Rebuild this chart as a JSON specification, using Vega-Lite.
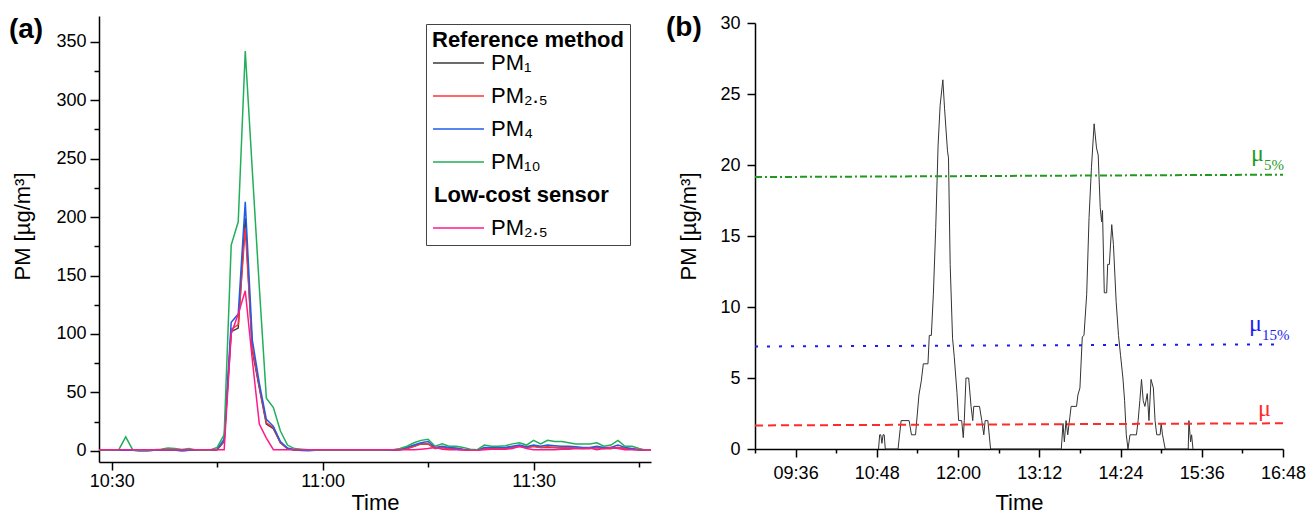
{
  "$schema": "https://vega.github.io/schema/vega-lite/v6.json",
  "background": "white",
  "padding": {"left": 8, "top": 14, "right": 0, "bottom": 0},
  "spacing": 14,
  "resolve": {"scale": {"color": "independent", "strokeDash": "independent"}, "legend": {"color": "independent"}},
  "config": {
    "view": {"stroke": null},
    "font": "Liberation Sans",
    "axis": {
      "grid": false, "domainColor": "black", "domainWidth": 1.5, "tickColor": "black", "tickWidth": 1.5,
      "labelFont": "Liberation Sans", "labelFontSize": 18, "labelColor": "black",
      "titleFont": "Liberation Sans", "titleFontSize": 22, "titleFontWeight": "normal", "titleColor": "black",
      "labelOverlap": false, "labelFlush": false
    },
    "axisX": {"labelPadding": 2, "titlePadding": 2},
    "axisY": {"labelPadding": 4, "titlePadding": 21}
  },
  "datasets": {
    "pma": [
      {"t": "2020-01-01T10:28:00", "PM1": 0.5, "PM2_5": 0.5, "PM4": 0.6, "PM10": 0.8, "LC_PM2_5": 1},
      {"t": "2020-01-01T10:29:00", "PM1": 0.5, "PM2_5": 0.5, "PM4": 0.6, "PM10": 0.8, "LC_PM2_5": 1},
      {"t": "2020-01-01T10:30:00", "PM1": 0.5, "PM2_5": 0.5, "PM4": 0.6, "PM10": 0.8, "LC_PM2_5": 1},
      {"t": "2020-01-01T10:31:00", "PM1": 0.5, "PM2_5": 0.5, "PM4": 0.6, "PM10": 0.8, "LC_PM2_5": 1},
      {"t": "2020-01-01T10:32:00", "PM1": 0.5, "PM2_5": 0.6, "PM4": 0.8, "PM10": 12, "LC_PM2_5": 1},
      {"t": "2020-01-01T10:33:00", "PM1": 0.5, "PM2_5": 0.5, "PM4": 0.6, "PM10": 0.8, "LC_PM2_5": 1},
      {"t": "2020-01-01T10:34:00", "PM1": 0.3, "PM2_5": 0.3, "PM4": 0.2, "PM10": 0.5, "LC_PM2_5": 1},
      {"t": "2020-01-01T10:35:00", "PM1": 0.3, "PM2_5": 0.3, "PM4": 0.1, "PM10": 0.6, "LC_PM2_5": 1},
      {"t": "2020-01-01T10:36:00", "PM1": 0.5, "PM2_5": 0.5, "PM4": 0.6, "PM10": 1, "LC_PM2_5": 1},
      {"t": "2020-01-01T10:37:00", "PM1": 0.5, "PM2_5": 0.6, "PM4": 0.8, "PM10": 1.5, "LC_PM2_5": 1},
      {"t": "2020-01-01T10:38:00", "PM1": 0.5, "PM2_5": 0.6, "PM4": 0.8, "PM10": 2.5, "LC_PM2_5": 1},
      {"t": "2020-01-01T10:39:00", "PM1": 0.5, "PM2_5": 0.6, "PM4": 0.8, "PM10": 2, "LC_PM2_5": 1},
      {"t": "2020-01-01T10:40:00", "PM1": 0.3, "PM2_5": 0.3, "PM4": 0.1, "PM10": 1.2, "LC_PM2_5": 1},
      {"t": "2020-01-01T10:41:00", "PM1": 0.5, "PM2_5": 0.5, "PM4": 0.6, "PM10": 2, "LC_PM2_5": 1},
      {"t": "2020-01-01T10:42:00", "PM1": 0.5, "PM2_5": 0.5, "PM4": 0.6, "PM10": 0.8, "LC_PM2_5": 1},
      {"t": "2020-01-01T10:43:00", "PM1": 0.5, "PM2_5": 0.5, "PM4": 0.6, "PM10": 0.8, "LC_PM2_5": 1},
      {"t": "2020-01-01T10:44:00", "PM1": 0.5, "PM2_5": 0.5, "PM4": 0.6, "PM10": 0.8, "LC_PM2_5": 1},
      {"t": "2020-01-01T10:45:00", "PM1": 1, "PM2_5": 1, "PM4": 1.5, "PM10": 3, "LC_PM2_5": 1},
      {"t": "2020-01-01T10:46:00", "PM1": 8, "PM2_5": 9, "PM4": 10, "PM10": 14, "LC_PM2_5": 1},
      {"t": "2020-01-01T10:47:00", "PM1": 102, "PM2_5": 104, "PM4": 110, "PM10": 176, "LC_PM2_5": 100},
      {"t": "2020-01-01T10:48:00", "PM1": 105, "PM2_5": 108, "PM4": 117, "PM10": 196, "LC_PM2_5": 117},
      {"t": "2020-01-01T10:49:00", "PM1": 199, "PM2_5": 191, "PM4": 213, "PM10": 342, "LC_PM2_5": 137},
      {"t": "2020-01-01T10:50:00", "PM1": 86, "PM2_5": 88, "PM4": 95, "PM10": 240, "LC_PM2_5": 78},
      {"t": "2020-01-01T10:51:00", "PM1": 54, "PM2_5": 55, "PM4": 58, "PM10": 140, "LC_PM2_5": 23},
      {"t": "2020-01-01T10:52:00", "PM1": 23, "PM2_5": 24, "PM4": 27, "PM10": 45, "LC_PM2_5": 11},
      {"t": "2020-01-01T10:53:00", "PM1": 19, "PM2_5": 20, "PM4": 21, "PM10": 37, "LC_PM2_5": 1},
      {"t": "2020-01-01T10:54:00", "PM1": 7, "PM2_5": 7, "PM4": 8, "PM10": 17, "LC_PM2_5": 1},
      {"t": "2020-01-01T10:55:00", "PM1": 2, "PM2_5": 2, "PM4": 2.5, "PM10": 5, "LC_PM2_5": 1},
      {"t": "2020-01-01T10:56:00", "PM1": 0.8, "PM2_5": 0.8, "PM4": 1, "PM10": 2, "LC_PM2_5": 1},
      {"t": "2020-01-01T10:57:00", "PM1": 0.5, "PM2_5": 0.5, "PM4": 0.3, "PM10": 1.5, "LC_PM2_5": 1},
      {"t": "2020-01-01T10:58:00", "PM1": 0.5, "PM2_5": 0.5, "PM4": 0.2, "PM10": 1, "LC_PM2_5": 1},
      {"t": "2020-01-01T10:59:00", "PM1": 0.5, "PM2_5": 0.5, "PM4": 0.6, "PM10": 0.8, "LC_PM2_5": 1},
      {"t": "2020-01-01T11:00:00", "PM1": 0.5, "PM2_5": 0.5, "PM4": 0.6, "PM10": 0.8, "LC_PM2_5": 1},
      {"t": "2020-01-01T11:01:00", "PM1": 0.5, "PM2_5": 0.5, "PM4": 0.6, "PM10": 0.8, "LC_PM2_5": 1},
      {"t": "2020-01-01T11:02:00", "PM1": 0.5, "PM2_5": 0.5, "PM4": 0.6, "PM10": 0.8, "LC_PM2_5": 1},
      {"t": "2020-01-01T11:03:00", "PM1": 0.5, "PM2_5": 0.5, "PM4": 0.6, "PM10": 0.8, "LC_PM2_5": 1},
      {"t": "2020-01-01T11:04:00", "PM1": 0.5, "PM2_5": 0.5, "PM4": 0.6, "PM10": 0.8, "LC_PM2_5": 1},
      {"t": "2020-01-01T11:05:00", "PM1": 0.5, "PM2_5": 0.5, "PM4": 0.6, "PM10": 0.8, "LC_PM2_5": 1},
      {"t": "2020-01-01T11:06:00", "PM1": 0.5, "PM2_5": 0.5, "PM4": 0.6, "PM10": 0.8, "LC_PM2_5": 1},
      {"t": "2020-01-01T11:07:00", "PM1": 0.5, "PM2_5": 0.5, "PM4": 0.6, "PM10": 0.8, "LC_PM2_5": 1},
      {"t": "2020-01-01T11:08:00", "PM1": 0.5, "PM2_5": 0.5, "PM4": 0.6, "PM10": 0.8, "LC_PM2_5": 1},
      {"t": "2020-01-01T11:09:00", "PM1": 0.5, "PM2_5": 0.5, "PM4": 0.6, "PM10": 0.8, "LC_PM2_5": 1},
      {"t": "2020-01-01T11:10:00", "PM1": 0.5, "PM2_5": 0.5, "PM4": 0.6, "PM10": 1, "LC_PM2_5": 1},
      {"t": "2020-01-01T11:11:00", "PM1": 1, "PM2_5": 1, "PM4": 1.5, "PM10": 2, "LC_PM2_5": 1},
      {"t": "2020-01-01T11:12:00", "PM1": 2, "PM2_5": 2, "PM4": 3, "PM10": 4, "LC_PM2_5": 1},
      {"t": "2020-01-01T11:13:00", "PM1": 4, "PM2_5": 4, "PM4": 5, "PM10": 7, "LC_PM2_5": 1},
      {"t": "2020-01-01T11:14:00", "PM1": 6, "PM2_5": 6, "PM4": 7, "PM10": 9, "LC_PM2_5": 1.5},
      {"t": "2020-01-01T11:15:00", "PM1": 6, "PM2_5": 6, "PM4": 8, "PM10": 10, "LC_PM2_5": 2},
      {"t": "2020-01-01T11:16:00", "PM1": 2, "PM2_5": 2, "PM4": 3, "PM10": 4, "LC_PM2_5": 3},
      {"t": "2020-01-01T11:17:00", "PM1": 3, "PM2_5": 3, "PM4": 4, "PM10": 6, "LC_PM2_5": 1.5},
      {"t": "2020-01-01T11:18:00", "PM1": 2, "PM2_5": 2, "PM4": 3, "PM10": 4, "LC_PM2_5": 1},
      {"t": "2020-01-01T11:19:00", "PM1": 1.5, "PM2_5": 1.5, "PM4": 2.5, "PM10": 4, "LC_PM2_5": 1},
      {"t": "2020-01-01T11:20:00", "PM1": 1, "PM2_5": 1, "PM4": 1.5, "PM10": 3, "LC_PM2_5": 1},
      {"t": "2020-01-01T11:21:00", "PM1": 0.5, "PM2_5": 0.5, "PM4": 1, "PM10": 1.5, "LC_PM2_5": 0.5},
      {"t": "2020-01-01T11:22:00", "PM1": 0.5, "PM2_5": 0.5, "PM4": 0.5, "PM10": 1, "LC_PM2_5": 0.5},
      {"t": "2020-01-01T11:23:00", "PM1": 2, "PM2_5": 2, "PM4": 3, "PM10": 5, "LC_PM2_5": 1},
      {"t": "2020-01-01T11:24:00", "PM1": 2, "PM2_5": 2, "PM4": 3, "PM10": 4, "LC_PM2_5": 1.5},
      {"t": "2020-01-01T11:25:00", "PM1": 2, "PM2_5": 2, "PM4": 3, "PM10": 4, "LC_PM2_5": 1.5},
      {"t": "2020-01-01T11:26:00", "PM1": 2, "PM2_5": 2, "PM4": 3, "PM10": 4.5, "LC_PM2_5": 1.5},
      {"t": "2020-01-01T11:27:00", "PM1": 3, "PM2_5": 3, "PM4": 4, "PM10": 6, "LC_PM2_5": 2},
      {"t": "2020-01-01T11:28:00", "PM1": 4, "PM2_5": 4, "PM4": 5, "PM10": 7, "LC_PM2_5": 4},
      {"t": "2020-01-01T11:29:00", "PM1": 3, "PM2_5": 3, "PM4": 3.5, "PM10": 5, "LC_PM2_5": 2},
      {"t": "2020-01-01T11:30:00", "PM1": 4, "PM2_5": 4, "PM4": 5, "PM10": 9, "LC_PM2_5": 1},
      {"t": "2020-01-01T11:31:00", "PM1": 3, "PM2_5": 3, "PM4": 4, "PM10": 6, "LC_PM2_5": 1},
      {"t": "2020-01-01T11:32:00", "PM1": 3, "PM2_5": 3.5, "PM4": 5, "PM10": 9, "LC_PM2_5": 1},
      {"t": "2020-01-01T11:33:00", "PM1": 3, "PM2_5": 3, "PM4": 4.5, "PM10": 8, "LC_PM2_5": 1},
      {"t": "2020-01-01T11:34:00", "PM1": 2.5, "PM2_5": 3, "PM4": 4, "PM10": 8, "LC_PM2_5": 1.5},
      {"t": "2020-01-01T11:35:00", "PM1": 2.5, "PM2_5": 3, "PM4": 4, "PM10": 7, "LC_PM2_5": 1.5},
      {"t": "2020-01-01T11:36:00", "PM1": 2, "PM2_5": 2.5, "PM4": 3.5, "PM10": 6, "LC_PM2_5": 2},
      {"t": "2020-01-01T11:37:00", "PM1": 2, "PM2_5": 2, "PM4": 3, "PM10": 6, "LC_PM2_5": 2},
      {"t": "2020-01-01T11:38:00", "PM1": 2, "PM2_5": 2, "PM4": 3, "PM10": 6, "LC_PM2_5": 2.5},
      {"t": "2020-01-01T11:39:00", "PM1": 3, "PM2_5": 3, "PM4": 4, "PM10": 7, "LC_PM2_5": 1},
      {"t": "2020-01-01T11:40:00", "PM1": 2, "PM2_5": 2, "PM4": 3, "PM10": 4, "LC_PM2_5": 2},
      {"t": "2020-01-01T11:41:00", "PM1": 2, "PM2_5": 2, "PM4": 3, "PM10": 5, "LC_PM2_5": 3},
      {"t": "2020-01-01T11:42:00", "PM1": 3, "PM2_5": 3, "PM4": 5, "PM10": 9, "LC_PM2_5": 2},
      {"t": "2020-01-01T11:43:00", "PM1": 2, "PM2_5": 2, "PM4": 3, "PM10": 4, "LC_PM2_5": 1},
      {"t": "2020-01-01T11:44:00", "PM1": 1.5, "PM2_5": 1.5, "PM4": 2, "PM10": 4, "LC_PM2_5": 1},
      {"t": "2020-01-01T11:45:00", "PM1": 1, "PM2_5": 1, "PM4": 1, "PM10": 2, "LC_PM2_5": 1},
      {"t": "2020-01-01T11:46:00", "PM1": 0.5, "PM2_5": 0.5, "PM4": 0.5, "PM10": 0.5, "LC_PM2_5": 0.8},
      {"t": "2020-01-01T11:47:00", "PM1": 0.5, "PM2_5": 0.5, "PM4": 0.5, "PM10": 0.5, "LC_PM2_5": 0.8}
    ],
    "pmb": [
      {"t": "2020-01-01T10:49:30", "v": 0}, {"t": "2020-01-01T10:50:30", "v": 1}, {"t": "2020-01-01T10:51:30", "v": 1},
      {"t": "2020-01-01T10:52:30", "v": 0.4}, {"t": "2020-01-01T10:53:30", "v": 1}, {"t": "2020-01-01T10:54:30", "v": 1},
      {"t": "2020-01-01T10:55:30", "v": 0}, {"t": "2020-01-01T11:06:48", "v": 0}, {"t": "2020-01-01T11:09:30", "v": 2},
      {"t": "2020-01-01T11:16:36", "v": 2}, {"t": "2020-01-01T11:18:42", "v": 1}, {"t": "2020-01-01T11:22:18", "v": 1},
      {"t": "2020-01-01T11:25:18", "v": 3.8}, {"t": "2020-01-01T11:27:24", "v": 4.8}, {"t": "2020-01-01T11:29:12", "v": 6},
      {"t": "2020-01-01T11:33:18", "v": 6}, {"t": "2020-01-01T11:34:30", "v": 8}, {"t": "2020-01-01T11:36:18", "v": 8},
      {"t": "2020-01-01T11:38:06", "v": 10.9}, {"t": "2020-01-01T11:40:12", "v": 15.6}, {"t": "2020-01-01T11:42:18", "v": 21.4},
      {"t": "2020-01-01T11:44:06", "v": 24.2}, {"t": "2020-01-01T11:46:30", "v": 26}, {"t": "2020-01-01T11:48:00", "v": 24},
      {"t": "2020-01-01T11:50:36", "v": 21}, {"t": "2020-01-01T11:51:30", "v": 20.5}, {"t": "2020-01-01T11:53:00", "v": 13},
      {"t": "2020-01-01T11:55:06", "v": 7.8}, {"t": "2020-01-01T11:56:36", "v": 6.5}, {"t": "2020-01-01T11:59:00", "v": 4},
      {"t": "2020-01-01T12:00:30", "v": 2}, {"t": "2020-01-01T12:03:12", "v": 2}, {"t": "2020-01-01T12:04:36", "v": 0.8},
      {"t": "2020-01-01T12:05:30", "v": 2}, {"t": "2020-01-01T12:07:00", "v": 5}, {"t": "2020-01-01T12:09:24", "v": 5},
      {"t": "2020-01-01T12:11:30", "v": 3}, {"t": "2020-01-01T12:13:00", "v": 2}, {"t": "2020-01-01T12:13:54", "v": 3},
      {"t": "2020-01-01T12:19:00", "v": 3}, {"t": "2020-01-01T12:21:00", "v": 2}, {"t": "2020-01-01T12:22:48", "v": 1},
      {"t": "2020-01-01T12:24:00", "v": 2}, {"t": "2020-01-01T12:26:24", "v": 2}, {"t": "2020-01-01T12:28:48", "v": 0},
      {"t": "2020-01-01T13:31:30", "v": 0}, {"t": "2020-01-01T13:33:00", "v": 1.8}, {"t": "2020-01-01T13:34:12", "v": 0.5},
      {"t": "2020-01-01T13:35:42", "v": 2}, {"t": "2020-01-01T13:37:12", "v": 1}, {"t": "2020-01-01T13:39:00", "v": 2.2},
      {"t": "2020-01-01T13:40:12", "v": 3}, {"t": "2020-01-01T13:45:00", "v": 3}, {"t": "2020-01-01T13:46:12", "v": 3.8},
      {"t": "2020-01-01T13:48:00", "v": 4.3}, {"t": "2020-01-01T13:50:06", "v": 7.9}, {"t": "2020-01-01T13:51:36", "v": 8},
      {"t": "2020-01-01T13:54:00", "v": 10.9}, {"t": "2020-01-01T13:56:06", "v": 16.3}, {"t": "2020-01-01T13:58:12", "v": 19.8},
      {"t": "2020-01-01T14:00:36", "v": 22.9}, {"t": "2020-01-01T14:02:42", "v": 21.2}, {"t": "2020-01-01T14:04:12", "v": 20.7},
      {"t": "2020-01-01T14:06:00", "v": 17}, {"t": "2020-01-01T14:07:12", "v": 16}, {"t": "2020-01-01T14:08:00", "v": 16.8},
      {"t": "2020-01-01T14:09:36", "v": 11}, {"t": "2020-01-01T14:11:42", "v": 11}, {"t": "2020-01-01T14:12:36", "v": 13},
      {"t": "2020-01-01T14:14:06", "v": 13}, {"t": "2020-01-01T14:16:12", "v": 15.8}, {"t": "2020-01-01T14:17:42", "v": 14.4},
      {"t": "2020-01-01T14:20:06", "v": 10.4}, {"t": "2020-01-01T14:22:12", "v": 8}, {"t": "2020-01-01T14:24:00", "v": 6.6},
      {"t": "2020-01-01T14:26:06", "v": 5}, {"t": "2020-01-01T14:27:36", "v": 3.4}, {"t": "2020-01-01T14:29:06", "v": 1},
      {"t": "2020-01-01T14:30:36", "v": 0}, {"t": "2020-01-01T14:32:24", "v": 1}, {"t": "2020-01-01T14:38:06", "v": 1},
      {"t": "2020-01-01T14:39:36", "v": 2}, {"t": "2020-01-01T14:41:06", "v": 3.4}, {"t": "2020-01-01T14:42:36", "v": 4.9},
      {"t": "2020-01-01T14:44:06", "v": 3.4}, {"t": "2020-01-01T14:45:36", "v": 3}, {"t": "2020-01-01T14:47:42", "v": 3.9},
      {"t": "2020-01-01T14:49:12", "v": 2}, {"t": "2020-01-01T14:51:00", "v": 4.9}, {"t": "2020-01-01T14:53:06", "v": 4.3},
      {"t": "2020-01-01T14:54:36", "v": 2}, {"t": "2020-01-01T14:56:06", "v": 1}, {"t": "2020-01-01T14:59:06", "v": 1},
      {"t": "2020-01-01T15:00:00", "v": 1.8}, {"t": "2020-01-01T15:01:12", "v": 1}, {"t": "2020-01-01T15:03:36", "v": 0},
      {"t": "2020-01-01T15:24:00", "v": 0}, {"t": "2020-01-01T15:24:36", "v": 2}, {"t": "2020-01-01T15:26:06", "v": 0.5},
      {"t": "2020-01-01T15:27:00", "v": 1}, {"t": "2020-01-01T15:28:12", "v": 0}
    ],
    "thr": [
      {"s": "mu5", "t": "2020-01-01T09:00:00", "v": 19.15}, {"s": "mu5", "t": "2020-01-01T16:48:00", "v": 19.32},
      {"s": "mu15", "t": "2020-01-01T09:00:00", "v": 7.22}, {"s": "mu15", "t": "2020-01-01T16:48:00", "v": 7.37},
      {"s": "mu", "t": "2020-01-01T09:00:00", "v": 1.66}, {"s": "mu", "t": "2020-01-01T16:48:00", "v": 1.81}
    ],
    "lab": [
      {"s": "mu5", "m": "μ", "sub": "5%", "t": "2020-01-01T16:19:36", "v": 20.3},
      {"s": "mu15", "m": "μ", "sub": "15%", "t": "2020-01-01T16:17:54", "v": 8.31},
      {"s": "mu", "m": "μ", "sub": "", "t": "2020-01-01T16:25:48", "v": 2.32}
    ]
  },
  "hconcat": [
    {
      "width": 552,
      "height": 446,
      "title": {"text": "(a)", "anchor": "start", "frame": "bounds", "fontSize": 28, "fontWeight": "bold", "font": "Liberation Sans", "color": "black", "offset": -28, "dx": -3},
      "data": {"name": "pma"},
      "transform": [{"fold": ["PM1", "PM2_5", "PM4", "PM10", "LC_PM2_5"], "as": ["series", "value"]}],
      "mark": {"type": "line", "strokeWidth": 1.5, "clip": true},
      "encoding": {
        "x": {
          "field": "t", "type": "temporal", "title": "Time",
          "scale": {"domain": [{"year": 2020, "month": 1, "date": 1, "hours": 10, "minutes": 28, "seconds": 12}, {"year": 2020, "month": 1, "date": 1, "hours": 11, "minutes": 46, "seconds": 42}]},
          "axis": {
            "values": [
              {"year": 2020, "month": 1, "date": 1, "hours": 10, "minutes": 30},
              {"year": 2020, "month": 1, "date": 1, "hours": 10, "minutes": 45},
              {"year": 2020, "month": 1, "date": 1, "hours": 11, "minutes": 0},
              {"year": 2020, "month": 1, "date": 1, "hours": 11, "minutes": 15},
              {"year": 2020, "month": 1, "date": 1, "hours": 11, "minutes": 30},
              {"year": 2020, "month": 1, "date": 1, "hours": 11, "minutes": 45}
            ],
            "labelExpr": "minutes(datum.value) % 30 == 0 ? timeFormat(datum.value, '%H:%M') : ''",
            "tickSize": {"condition": {"test": "minutes(datum.value) % 30 == 0", "value": 8}, "value": 5}
          }
        },
        "y": {
          "field": "value", "type": "quantitative", "title": "PM [µg/m³]",
          "scale": {"domain": [-9.5, 372], "nice": false, "zero": false},
          "axis": {
            "values": [0, 25, 50, 75, 100, 125, 150, 175, 200, 225, 250, 275, 300, 325, 350],
            "labelExpr": "datum.value % 50 == 0 ? datum.label : ''",
            "tickSize": {"condition": {"test": "datum.value % 50 == 0", "value": 9}, "value": 5},
            "titleY": 210
          }
        },
        "color": {
          "field": "series", "type": "nominal",
          "scale": {"domain": ["PM1", "PM2_5", "PM4", "PM10", "hdr", "LC_PM2_5"], "range": ["#3a3a3a", "#ff3535", "#1f5ce8", "#22ae5a", "#ffffff", "#ff1a8c"]},
          "legend": {
            "orient": "none", "legendX": 327, "legendY": 8,
            "title": "Reference method", "titleLimit": 400,
            "titleFont": "Liberation Sans", "titleFontSize": 22, "titleFontWeight": "bold", "titleColor": "black", "titlePadding": 0,
            "labelFont": "Liberation Sans", "labelFontSize": 22, "labelColor": "black", "labelLimit": 300,
            "labelExpr": "datum.value == 'PM1' ? 'PM₁' : datum.value == 'PM2_5' ? 'PM₂.₅' : datum.value == 'PM4' ? 'PM₄' : datum.value == 'PM10' ? 'PM₁₀' : datum.value == 'hdr' ? 'Low-cost sensor' : 'PM₂.₅'",
            "symbolType": "stroke", "symbolSize": 2601, "symbolStrokeWidth": 1.5,
            "clipHeight": 22, "rowPadding": 11, "labelOffset": 6,
            "strokeColor": "#444444", "fillColor": "white", "padding": 6,
            "encode": {
              "labels": {"update": {
                "fontWeight": {"signal": "datum.value == 'hdr' ? 'bold' : 'normal'"},
                "dx": {"signal": "datum.value == 'hdr' ? -57 : 0"}
              }},
              "symbols": {"update": {"opacity": {"signal": "datum.value == 'hdr' ? 0 : 1"}}}
            }
          }
        }
      }
    },
    {
      "spacing": -3,
      "vconcat": [
        {
          "width": 528,
          "height": 1,
          "data": {"values": []},
          "mark": {"type": "point", "opacity": 0},
          "encoding": {}
        },
        {
          "width": 528,
          "height": 426,
          "title": {"text": "(b)", "anchor": "start", "frame": "bounds", "fontSize": 28, "fontWeight": "bold", "font": "Liberation Sans", "color": "black", "offset": -28, "dx": -12},
          "layer": [
            {
              "data": {"name": "pmb"},
              "mark": {"type": "line", "color": "#333333", "strokeWidth": 1},
              "encoding": {
                "x": {
                  "field": "t", "type": "temporal", "title": "Time",
                  "scale": {"domain": [{"year": 2020, "month": 1, "date": 1, "hours": 9, "minutes": 0}, {"year": 2020, "month": 1, "date": 1, "hours": 16, "minutes": 48}]},
                  "axis": {
                    "values": [
                      {"year": 2020, "month": 1, "date": 1, "hours": 9, "minutes": 0},
                      {"year": 2020, "month": 1, "date": 1, "hours": 9, "minutes": 36},
                      {"year": 2020, "month": 1, "date": 1, "hours": 10, "minutes": 12},
                      {"year": 2020, "month": 1, "date": 1, "hours": 10, "minutes": 48},
                      {"year": 2020, "month": 1, "date": 1, "hours": 11, "minutes": 24},
                      {"year": 2020, "month": 1, "date": 1, "hours": 12, "minutes": 0},
                      {"year": 2020, "month": 1, "date": 1, "hours": 12, "minutes": 36},
                      {"year": 2020, "month": 1, "date": 1, "hours": 13, "minutes": 12},
                      {"year": 2020, "month": 1, "date": 1, "hours": 13, "minutes": 48},
                      {"year": 2020, "month": 1, "date": 1, "hours": 14, "minutes": 24},
                      {"year": 2020, "month": 1, "date": 1, "hours": 15, "minutes": 0},
                      {"year": 2020, "month": 1, "date": 1, "hours": 15, "minutes": 36},
                      {"year": 2020, "month": 1, "date": 1, "hours": 16, "minutes": 12},
                      {"year": 2020, "month": 1, "date": 1, "hours": 16, "minutes": 48}
                    ],
                    "labelExpr": "(hours(datum.value) * 60 + minutes(datum.value)) % 72 == 0 ? timeFormat(datum.value, '%H:%M') : ''",
                    "tickSize": {"condition": {"test": "(hours(datum.value) * 60 + minutes(datum.value)) % 72 == 0", "value": 8}, "value": 4},
                    "labelPadding": 7, "titlePadding": 10
                  }
                },
                "y": {
                  "field": "v", "type": "quantitative", "title": "PM [µg/m³]",
                  "scale": {"domain": [0, 30], "nice": false},
                  "axis": {
                    "values": [0, 2.5, 5, 7.5, 10, 12.5, 15, 17.5, 20, 22.5, 25, 27.5, 30],
                    "labelExpr": "datum.value % 5 == 0 ? datum.label : ''",
                    "tickSize": {"condition": {"test": "datum.value % 5 == 0", "value": 8}, "value": 4},
                    "labelPadding": 7, "titlePadding": 19, "titleY": 203
                  }
                }
              }
            },
            {
              "data": {"name": "thr"},
              "mark": {"type": "line", "strokeWidth": 2},
              "encoding": {
                "x": {"field": "t", "type": "temporal"},
                "y": {"field": "v", "type": "quantitative"},
                "color": {"field": "s", "type": "nominal", "scale": {"domain": ["mu5", "mu15", "mu"], "range": ["#1f9a1f", "#1c1cf0", "#ff2a2a"]}, "legend": null},
                "strokeDash": {"field": "s", "type": "nominal", "scale": {"domain": ["mu5", "mu15", "mu"], "range": [[7, 3, 2, 3], [3, 9], [8, 5]]}, "legend": null}
              }
            },
            {
              "data": {"name": "lab"},
              "mark": {"type": "text", "align": "left", "baseline": "alphabetic", "font": "Liberation Serif", "fontSize": 24},
              "encoding": {
                "x": {"field": "t", "type": "temporal"},
                "y": {"field": "v", "type": "quantitative"},
                "text": {"field": "m"},
                "color": {"field": "s", "type": "nominal", "legend": null}
              }
            },
            {
              "data": {"name": "lab"},
              "mark": {"type": "text", "align": "left", "baseline": "alphabetic", "font": "Liberation Serif", "fontSize": 15, "dx": 13, "dy": 9},
              "encoding": {
                "x": {"field": "t", "type": "temporal"},
                "y": {"field": "v", "type": "quantitative"},
                "text": {"field": "sub"},
                "color": {"field": "s", "type": "nominal", "legend": null}
              }
            }
          ]
        }
      ]
    }
  ]
}
